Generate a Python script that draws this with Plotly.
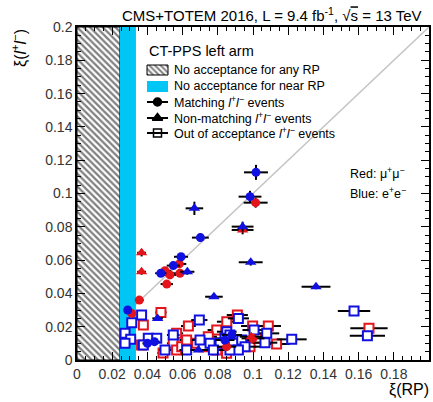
import plotly.graph_objects as go

# ---------------- data ----------------
# Matching l+l- events (filled circles)
match_red_x  = [0.1015, 0.0581, 0.0500, 0.0528, 0.0585, 0.0510, 0.0354, 0.0311, 0.0850, 0.1000]
match_red_y  = [0.0945, 0.0577, 0.0536, 0.0511, 0.0521, 0.0456, 0.0360, 0.0280, 0.0080, 0.0130]
match_red_ex = [0.0068, 0.0040, 0.0035, 0.0036, 0.0040, 0.0035, 0.0025, 0.0022, 0.0055, 0.0065]
match_red_ey = [0.0030, 0.0018, 0.0017, 0.0016, 0.0017, 0.0015, 0.0012, 0.0010, 0.0005, 0.0006]

match_blue_x  = [0.1017, 0.0983, 0.0701, 0.0591, 0.0547, 0.0476, 0.0288, 0.0400, 0.0440, 0.0840, 0.0880]
match_blue_y  = [0.1127, 0.0981, 0.0735, 0.0620, 0.0567, 0.0521, 0.0300, 0.0100, 0.0110, 0.0120, 0.0150]
match_blue_ex = [0.0068, 0.0065, 0.0048, 0.0040, 0.0037, 0.0032, 0.0020, 0.0028, 0.0030, 0.0055, 0.0058]
match_blue_ey = [0.0045, 0.0035, 0.0025, 0.0020, 0.0018, 0.0017, 0.0010, 0.0005, 0.0005, 0.0005, 0.0006]

# Non-matching l+l- events (triangles)
nonm_red_x  = [0.0367, 0.0367, 0.0941, 0.0990]
nonm_red_y  = [0.0644, 0.0530, 0.0781, 0.0140]
nonm_red_ex = [0.0025, 0.0025, 0.0062, 0.0065]
nonm_red_ey = [0.0022, 0.0018, 0.0026, 0.0006]

nonm_blue_x  = [0.0667, 0.0941, 0.0627, 0.0987, 0.0778, 0.1358, 0.0458, 0.0690]
nonm_blue_y  = [0.0911, 0.0801, 0.0530, 0.0587, 0.0380, 0.0440, 0.0250, 0.0060]
nonm_blue_ex = [0.0050, 0.0062, 0.0040, 0.0068, 0.0050, 0.0082, 0.0030, 0.0045]
nonm_blue_ey = [0.0040, 0.0030, 0.0018, 0.0020, 0.0013, 0.0015, 0.0009, 0.0004]

# Out of acceptance l+l- events (open squares)
out_red_x  = [0.0477, 0.0377, 0.0633, 0.0851, 0.0911, 0.0998, 0.1087, 0.1134, 0.1659, 0.0794,
              0.0566, 0.0547, 0.0566, 0.0595, 0.0623, 0.0680, 0.0718, 0.0746, 0.0794, 0.0945,
              0.0983, 0.1021, 0.0489, 0.0367, 0.0850]
out_red_y  = [0.0286, 0.0210, 0.0204, 0.0230, 0.0270, 0.0204, 0.0204, 0.0096, 0.0190, 0.0180,
              0.0160, 0.0100, 0.0060, 0.0080, 0.0120, 0.0100, 0.0080, 0.0140, 0.0060, 0.0110,
              0.0080, 0.0130, 0.0042, 0.0090, 0.0040]
out_red_ex = [0.0032, 0.0025, 0.0042, 0.0056, 0.0060, 0.0066, 0.0072, 0.0075, 0.0106, 0.0052,
              0.0037, 0.0036, 0.0037, 0.0039, 0.0041, 0.0045, 0.0047, 0.0049, 0.0052, 0.0062,
              0.0065, 0.0067, 0.0032, 0.0024, 0.0056]

out_blue_x  = [0.0367, 0.0311, 0.0273, 0.0305, 0.0273, 0.0695, 0.0917, 0.1006, 0.1078, 0.1068,
               0.1220, 0.1574, 0.1650, 0.0851, 0.0841, 0.0869, 0.0813, 0.0888, 0.0936, 0.0955,
               0.0917, 0.0547, 0.0500, 0.0623, 0.0405, 0.0453, 0.0377, 0.0699, 0.0756, 0.0775,
               0.0869]
out_blue_y  = [0.0270, 0.0224, 0.0160, 0.0124, 0.0100, 0.0240, 0.0250, 0.0180, 0.0160, 0.0104,
               0.0124, 0.0294, 0.0146, 0.0170, 0.0130, 0.0150, 0.0100, 0.0100, 0.0120, 0.0080,
               0.0060, 0.0150, 0.0060, 0.0060, 0.0130, 0.0130, 0.0090, 0.0120, 0.0100, 0.0060,
               0.0060]
out_blue_ex = [0.0024, 0.0020, 0.0018, 0.0020, 0.0018, 0.0046, 0.0060, 0.0066, 0.0071, 0.0070,
               0.0085, 0.0092, 0.0100, 0.0056, 0.0055, 0.0057, 0.0053, 0.0058, 0.0061, 0.0063,
               0.0060, 0.0036, 0.0033, 0.0041, 0.0027, 0.0030, 0.0025, 0.0046, 0.0050, 0.0051,
               0.0057]

# acceptance limits and axis range
NO_ACC_ANY_RP = 0.0244
NO_ACC_NEAR_RP = 0.0335
AX_MIN, AX_MAX = 0.0, 0.2
tick_vals = [0, 0.02, 0.04, 0.06, 0.08, 0.1, 0.12, 0.14, 0.16, 0.18, 0.2]
tick_text = ["0", "0.02", "0.04", "0.06", "0.08", "0.1", "0.12", "0.14", "0.16", "0.18", "0.2"]

RED = "#e4141b"
BLUE = "#1010e0"
CYAN = "#00c6f6"
FONT = "Liberation Sans, Arial, Helvetica, sans-serif"

# plot-area geometry in pixels (for placing text)
W, H = 433, 402
L, R, T, B = 77, 4, 27, 42
PW, PH = W - L - R, H - T - B


def px(xp):
    return (xp - L) / PW


def py(yp):
    return (H - B - yp) / PH


fig = go.Figure()

# diagonal
fig.add_trace(go.Scatter(x=[AX_MIN, AX_MAX], y=[AX_MIN, AX_MAX], mode="lines",
                         line=dict(color="#c4c4c4", width=1.5), hoverinfo="skip"))
# no acceptance for any RP (hatched)
fig.add_trace(go.Scatter(x=[AX_MIN, NO_ACC_ANY_RP, NO_ACC_ANY_RP, AX_MIN, AX_MIN],
                         y=[AX_MIN, AX_MIN, AX_MAX, AX_MAX, AX_MIN],
                         mode="lines", fill="toself", fillcolor="white",
                         fillpattern=dict(shape="\\", fgcolor="black", bgcolor="white",
                                          size=4.5, solidity=0.5),
                         line=dict(color="black", width=1), hoverinfo="skip"))
# no acceptance for near RP (cyan)
fig.add_trace(go.Scatter(x=[NO_ACC_ANY_RP, NO_ACC_NEAR_RP, NO_ACC_NEAR_RP, NO_ACC_ANY_RP, NO_ACC_ANY_RP],
                         y=[AX_MIN, AX_MIN, AX_MAX, AX_MAX, AX_MIN],
                         mode="lines", fill="toself", fillcolor=CYAN,
                         line=dict(width=0, color=CYAN), hoverinfo="skip"))


def add_group(x, y, ex, ey, symbol, color, size, filled=True):
    if filled:
        marker = dict(symbol=symbol, size=size, color=color, line=dict(width=0))
    else:
        marker = dict(symbol=symbol, size=size, color="white", line=dict(color=color, width=2))
    err_y = dict(type="data", array=ey, color="black", thickness=2, width=0) if ey is not None \
        else dict(visible=False)
    fig.add_trace(go.Scatter(x=x, y=y, mode="markers", marker=marker,
                             error_x=dict(type="data", array=ex, color="black", thickness=2, width=0),
                             error_y=err_y))


add_group(out_red_x, out_red_y, out_red_ex, None, "square", RED, 9, filled=False)
add_group(out_blue_x, out_blue_y, out_blue_ex, None, "square", BLUE, 9, filled=False)
add_group(match_red_x, match_red_y, match_red_ex, match_red_ey, "circle", RED, 9)
add_group(match_blue_x, match_blue_y, match_blue_ex, match_blue_ey, "circle", BLUE, 9)
add_group(nonm_red_x, nonm_red_y, nonm_red_ex, nonm_red_ey, "triangle-up", RED, 10)
add_group(nonm_blue_x, nonm_blue_y, nonm_blue_ex, nonm_blue_ey, "triangle-up", BLUE, 10)

# ---------------- custom legend (overlay axes in 0..1 plot fractions) ----------------
lx0, lx1, lxc = px(147), px(168), px(157.5)
leg_kw = dict(xaxis="x2", yaxis="y2", hoverinfo="skip")
fig.add_trace(go.Scatter(x=[lx0, lx1, lx1, lx0, lx0], y=[py(75), py(75), py(65), py(65), py(75)],
                         mode="lines", fill="toself", fillcolor="white",
                         fillpattern=dict(shape="\\", fgcolor="black", bgcolor="white", size=4, solidity=0.5),
                         line=dict(color="black", width=1), **leg_kw))
fig.add_trace(go.Scatter(x=[lx0, lx1, lx1, lx0, lx0], y=[py(92), py(92), py(81), py(81), py(92)],
                         mode="lines", fill="toself", fillcolor=CYAN,
                         line=dict(color=CYAN, width=0), **leg_kw))
for yc, sym, sz in [(102, "circle", 8), (118, "triangle-up", 9), (133, "square-open", 8)]:
    fig.add_trace(go.Scatter(x=[lx0, lx1], y=[py(yc), py(yc)], mode="lines",
                             line=dict(color="black", width=2), **leg_kw))
    fig.add_trace(go.Scatter(x=[lxc], y=[py(yc)], mode="markers",
                             marker=dict(symbol=sym, size=sz, color="black",
                                         line=dict(color="black", width=1.5)), **leg_kw))

# empty trace so that the mirrored (top/right) tick axes are drawn
fig.add_trace(go.Scatter(x=[], y=[], xaxis="x3", yaxis="y3", hoverinfo="skip"))

ann = []
ann.append(dict(text="CT-PPS left arm", x=px(147), y=py(51), xanchor="left", yanchor="middle",
                font=dict(size=14.5)))
for yc, txt in [(70, "No acceptance for any RP"), (86, "No acceptance for near RP"),
                (102, "Matching <i>l</i><sup>+</sup><i>l</i><sup>−</sup> events"),
                (118, "Non-matching <i>l</i><sup>+</sup><i>l</i><sup>−</sup> events"),
                (133, "Out of acceptance <i>l</i><sup>+</sup><i>l</i><sup>−</sup> events")]:
    ann.append(dict(text=txt, x=px(172), y=py(yc), xanchor="left", yanchor="middle",
                    font=dict(size=12.5)))
ann.append(dict(text="Red: μ<sup>+</sup>μ<sup>−</sup>", x=px(348), y=py(173), xanchor="left",
                yanchor="middle", font=dict(size=12.5)))
ann.append(dict(text="Blue: e<sup>+</sup>e<sup>−</sup>", x=px(348), y=py(193), xanchor="left",
                yanchor="middle", font=dict(size=12.5)))
# title
ann.append(dict(text="CMS+TOTEM 2016, L = 9.4 fb<sup>-1</sup>, √<span style='text-decoration:overline'>s</span> = 13 TeV",
                x=px(424), y=py(15), xanchor="right", yanchor="middle", font=dict(size=15)))
# axis titles
ann.append(dict(text="ξ(<i>l</i><sup>+</sup><i>l</i><sup>−</sup>)", x=px(19), y=1.0, xanchor="center",
                yanchor="top", textangle=-90, font=dict(size=16)))
ann.append(dict(text="ξ(RP)", x=px(431), y=py(390), xanchor="right", yanchor="middle",
                font=dict(size=16)))
for a in ann:
    a.update(xref="paper", yref="paper", showarrow=False)
    a.setdefault("font", {})
    a["font"].setdefault("color", "black")
    a["font"]["family"] = FONT

tick_style = dict(range=[AX_MIN, AX_MAX], tickvals=tick_vals,
                  ticks="inside", ticklen=8, tickwidth=1, tickcolor="black",
                  showgrid=False, zeroline=False, automargin=False,
                  minor=dict(ticks="inside", ticklen=4, tickcolor="black", tickwidth=1,
                             dtick=0.005, tick0=0, showgrid=False))
axis_main = dict(**tick_style, ticktext=tick_text,
                 showline=True, linecolor="black", linewidth=1.5, mirror=True,
                 tickfont=dict(family=FONT, size=14, color="#333333"))
axis_mirror = dict(**tick_style, showticklabels=False, showline=False, fixedrange=True)

fig.update_layout(
    width=W, height=H,
    margin=dict(l=L, r=R, t=T, b=B),
    paper_bgcolor="white", plot_bgcolor="white",
    showlegend=False,
    xaxis=dict(**axis_main),
    yaxis=dict(**axis_main),
    xaxis2=dict(overlaying="x", range=[0, 1], visible=False, fixedrange=True),
    yaxis2=dict(overlaying="y", range=[0, 1], visible=False, fixedrange=True),
    xaxis3=dict(**axis_mirror, overlaying="x", side="top", anchor="y3"),
    yaxis3=dict(**axis_mirror, overlaying="y", side="right", anchor="x3"),
    annotations=ann,
)

fig.write_html("out.html")
